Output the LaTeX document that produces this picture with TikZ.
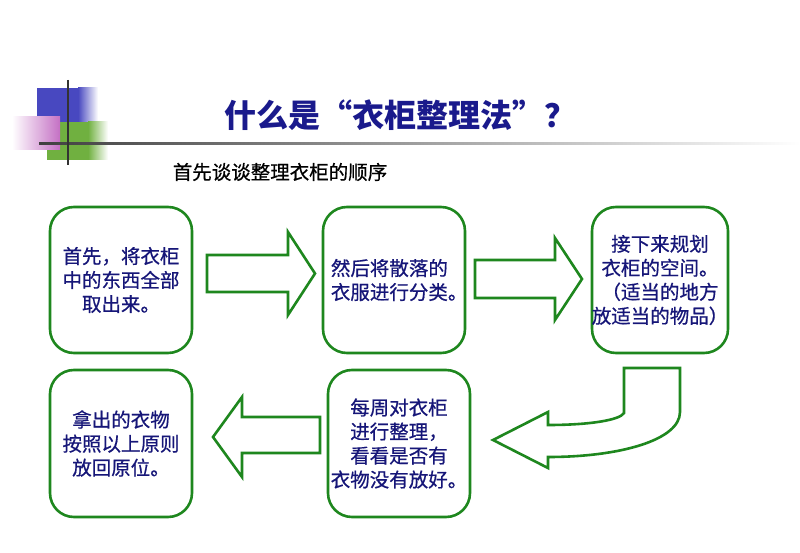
\documentclass[tikz,border=0pt]{standalone}
\usepackage{fontspec}
\newfontfamily\cjk{Noto Sans CJK SC}
\newfontfamily\cjkbox[FakeBold=0.6]{Noto Sans CJK SC}
\begin{document}
\begin{tikzpicture}[x=1pt,y=-1pt,
  box/.style={draw=bordergreen,line width=2.6pt,rounded corners=24pt,fill=white,minimum width=#1,inner sep=0pt},
  arrowshape/.style={draw=bordergreen,line width=2.6pt,fill=white,line join=miter},
  txt/.style={text=textnavy,font=\cjkbox\fontsize{19.5}{24}\selectfont,align=center,inner sep=0pt},
  ]
\definecolor{bordergreen}{RGB}{30,135,30}
\definecolor{textnavy}{RGB}{22,22,120}
\definecolor{titlenavy}{RGB}{26,26,140}
\definecolor{decoblue}{RGB}{72,72,192}
\definecolor{decogreen}{RGB}{112,176,64}
\definecolor{decopink}{RGB}{196,112,196}
\useasboundingbox (0,0) rectangle (800,553);
\fill[white] (0,0) rectangle (800,553);
% decoration
\fill[decoblue] (37,88) rectangle (78,123);
\shade[left color=decoblue,right color=white] (78,88) rectangle (98,123);
\fill[decogreen] (47,122) rectangle (88,160);
\shade[left color=decogreen,right color=white] (88,122) rectangle (108,160);
\shade[left color=white,right color=decopink] (12,117) rectangle (60,150);
\shade[left color=black!75,right color=white] (39,143) rectangle (800,145);
\draw[black!80,line width=1.5pt] (68,80) -- (68,165);
% title
\node[text=titlenavy,font=\cjk\bfseries\fontsize{32}{36}\selectfont,inner sep=0pt] (title) at (400,115) {什么是“衣柜整理法”？};
\node[text=black,font=\cjkbox\fontsize{19.5}{22}\selectfont,inner sep=0pt] (sub) at (280,172) {首先谈谈整理衣柜的顺序};
% boxes
\node[box=142pt,minimum height=146pt] (b1) at (121,280) {};
\node[box=142pt,minimum height=146pt] (b2) at (394,280) {};
\node[box=136pt,minimum height=146pt] (b3) at (660,280) {};
\node[box=142pt,minimum height=147pt] (b4) at (121,443.5) {};
\node[box=142pt,minimum height=147pt] (b5) at (399,443.5) {};
% texts
\node[txt] (t1) at (b1.center) {首先，将衣柜\\中的东西全部\\取出来。};
\node[txt,align=left,anchor=west] (t2) at ([xshift=9pt]b2.west) {然后将散落的\\衣服进行分类。};
\node[txt] (t3) at (b3.center) {接下来规划\\衣柜的空间。\\（适当的地方\\放适当的物品）};
\node[txt] (t4) at (b4.center) {拿出的衣物\\按照以上原则\\放回原位。};
\node[txt] (t5) at (b5.center) {每周对衣柜\\进行整理，\\看看是否有\\衣物没有放好。};
% arrows
\draw[arrowshape] (207,255) -- (288,255) -- (288,232) -- (315,273.5) -- (288,315) -- (288,292) -- (207,292) -- cycle;
\draw[arrowshape] (475,260) -- (555,260) -- (555,238) -- (582,279) -- (555,320) -- (555,298) -- (475,298) -- cycle;
\draw[arrowshape] (320,417) -- (242,417) -- (242,397) -- (213,437) -- (242,477) -- (242,453) -- (320,453) -- cycle;
\draw[arrowshape] (624,368) -- (680,368) -- (680,412) .. controls (680,440) and (620,457) .. (548,457) -- (548,468) -- (493,440) -- (548,412) -- (548,425) .. controls (590,425) and (620,420) .. (624,413) -- cycle;
\end{tikzpicture}
\end{document}
